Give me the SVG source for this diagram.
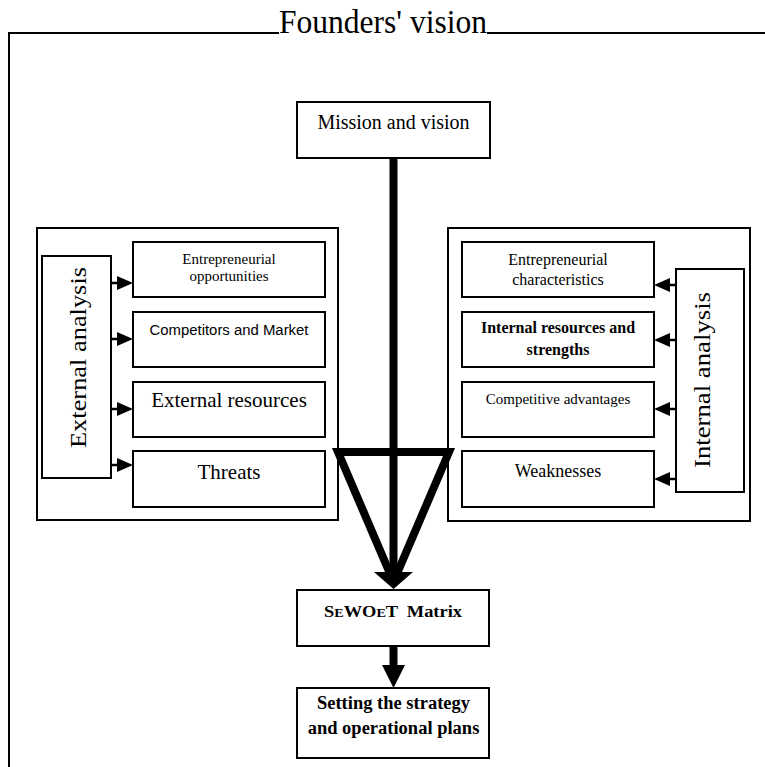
<svg xmlns="http://www.w3.org/2000/svg" width="765" height="767" viewBox="0 0 765 767">
<style>
.box{fill:#fff;stroke:#000;stroke-width:2}
.frame{fill:none;stroke:#000;stroke-width:2}
.t{font-family:"Liberation Serif","Times New Roman",serif;fill:#000;text-anchor:middle}
.s{font-family:"Liberation Sans",Arial,sans-serif;fill:#000;text-anchor:middle}
.b{font-weight:bold}
.thin{stroke:#000;stroke-width:2.5;fill:none}
.thick{stroke:#000;stroke-width:8;fill:none}
</style>
<rect width="765" height="767" fill="#fff"/>
<g id="frame">
<path class="frame" d="M9,767 V33 H279 M487,33 H765"/>
<text class="t" x="383" y="33" font-size="33" textLength="208" lengthAdjust="spacingAndGlyphs">Founders' vision</text>
</g>
<g id="external-group"><rect class="box" x="37" y="228" width="301" height="292"/></g>
<g id="internal-group"><rect class="box" x="448" y="228" width="302" height="293"/></g>
<g id="mission">
<rect class="box" x="297" y="102" width="193" height="56"/>
<text class="t" x="393.5" y="129" font-size="20">Mission and vision</text>
</g>
<g id="external-analysis">
<rect class="box" x="42" y="256" width="69" height="222"/>
<text class="t" transform="translate(86,357.5) rotate(-90)" font-size="24" textLength="181" lengthAdjust="spacingAndGlyphs">External analysis</text>
</g>
<g id="entrepreneurial-opportunities">
<rect class="box" x="133" y="242" width="192" height="55"/>
<text class="t" x="229" y="264" font-size="15">Entrepreneurial</text>
<text class="t" x="229" y="281" font-size="15">opportunities</text>
</g>
<g id="competitors-market">
<rect class="box" x="133" y="312" width="192" height="55"/>
<text class="s" x="229" y="335" font-size="14" textLength="159" lengthAdjust="spacingAndGlyphs">Competitors and Market</text>
</g>
<g id="external-resources">
<rect class="box" x="133" y="382" width="192" height="55"/>
<text class="t" x="229" y="407" font-size="21">External resources</text>
</g>
<g id="threats">
<rect class="box" x="133" y="451" width="192" height="56"/>
<text class="t" x="229" y="479" font-size="21">Threats</text>
</g>
<g id="internal-analysis">
<rect class="box" x="676" y="269" width="68" height="223"/>
<text class="t" transform="translate(710,380) rotate(-90)" font-size="24" textLength="176" lengthAdjust="spacingAndGlyphs">Internal analysis</text>
</g>
<g id="entrepreneurial-characteristics">
<rect class="box" x="462" y="242" width="192" height="55"/>
<text class="t" x="558" y="265" font-size="16">Entrepreneurial</text>
<text class="t" x="558" y="285" font-size="16">characteristics</text>
</g>
<g id="internal-resources">
<rect class="box" x="462" y="312" width="192" height="55"/>
<text class="t b" x="558" y="333" font-size="16">Internal resources and</text>
<text class="t b" x="558" y="355" font-size="16">strengths</text>
</g>
<g id="competitive-advantages">
<rect class="box" x="462" y="382" width="192" height="55"/>
<text class="t" x="558" y="404" font-size="15">Competitive advantages</text>
</g>
<g id="weaknesses">
<rect class="box" x="462" y="451" width="192" height="56"/>
<text class="t" x="558" y="477" font-size="18">Weaknesses</text>
</g>
<g id="connectors">
<path class="thin" d="M111,283 H118 M111,339 H118 M111,409 H118 M111,465 H118"/>
<path d="M117,276 L133,283 L117,290 Z M117,332 L133,339 L117,346 Z M117,402 L133,409 L117,416 Z M117,458 L133,465 L117,472 Z" fill="#000"/>
<path class="thin" d="M676,285 H669 M676,340 H669 M676,409 H669 M676,479 H669"/>
<path d="M670,278 L654,285 L670,292 Z M670,333 L654,340 L670,347 Z M670,402 L654,409 L670,416 Z M670,472 L654,479 L670,486 Z" fill="#000"/>
<path class="thick" d="M393.5,158 V576"/>
<path class="thick" stroke-linejoin="miter" d="M391,576 L338,452 H449 L396,576"/>
<path d="M374,572 L413,572 L393.5,589 Z" fill="#000"/>
<path class="thick" stroke-width="9" d="M393.5,646 V667"/>
<path d="M382,665 L405,665 L393.5,688 Z" fill="#000"/>
</g>
<g id="matrix">
<rect class="box" x="297" y="590" width="192" height="56"/>
<text class="t b" x="393" y="617" font-size="17" textLength="138" lengthAdjust="spacingAndGlyphs">S<tspan font-size="13">E</tspan>WO<tspan font-size="13">E</tspan>T<tspan dx="8">Matrix</tspan></text>
</g>
<g id="strategy">
<rect class="box" x="297" y="688" width="192" height="70"/>
<text class="t b" x="393.5" y="709" font-size="18.5">Setting the strategy</text>
<text class="t b" x="393.5" y="734" font-size="18.5">and operational plans</text>
</g>
</svg>
